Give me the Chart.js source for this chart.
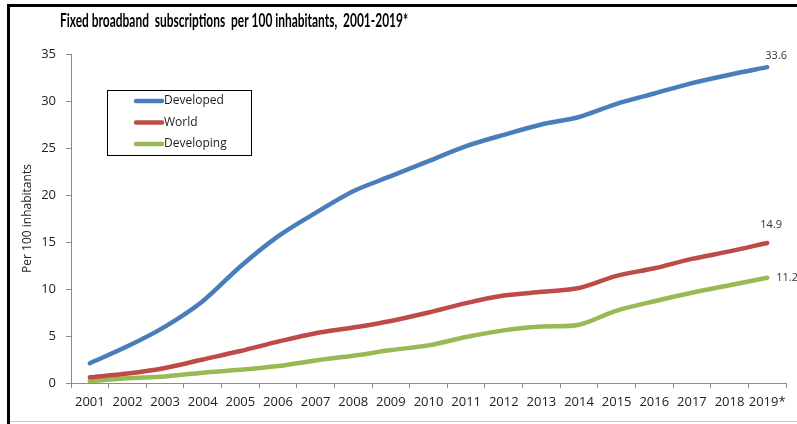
<!DOCTYPE html>
<html>
<head>
<meta charset="utf-8">
<script src="https://cdn.jsdelivr.net/npm/chart.js@4.4.0/dist/chart.umd.min.js"></script>
<style>
  html, body { margin: 0; padding: 0; background: #fff; }
  #wrap { position: relative; width: 797px; height: 424px; }
</style>
</head>
<body>
<div id="wrap"><canvas id="c" width="797" height="424"></canvas></div>
<script>
const titleText = 'Fixed broadband  subscriptions  per 100 inhabitants,  2001-2019*';
const yAxisTitle = 'Per 100 inhabitants';
const years = ['2001','2002','2003','2004','2005','2006','2007','2008','2009','2010',
               '2011','2012','2013','2014','2015','2016','2017','2018','2019*'];
const seriesNames = ['Developed', 'World', 'Developing'];
const developed  = [2.1, 3.9, 6.0, 8.7, 12.4, 15.6, 18.1, 20.4, 22.0, 23.6, 25.2, 26.4, 27.5, 28.3, 29.7, 30.8, 31.9, 32.8, 33.6];
const world      = [0.6, 1.0, 1.6, 2.5, 3.4, 4.4, 5.3, 5.9, 6.6, 7.5, 8.5, 9.3, 9.7, 10.1, 11.4, 12.2, 13.2, 14.0, 14.9];
const developing = [0.2, 0.5, 0.7, 1.1, 1.4, 1.8, 2.4, 2.9, 3.5, 4.0, 4.9, 5.6, 6.0, 6.2, 7.7, 8.7, 9.6, 10.4, 11.2];
const yTicks = [0, 5, 10, 15, 20, 25, 30, 35];

const colors = ['#4A7EBB', '#BE4B48', '#98B954'];
const FONT = "'Open Sans', 'Liberation Sans', sans-serif";

const framePlugin = {
  id: 'frame',
  beforeDraw(chart) {
    const ctx = chart.ctx;
    ctx.save();
    ctx.fillStyle = '#fff';
    ctx.fillRect(0, 0, chart.width, chart.height);
    ctx.fillStyle = '#000';
    ctx.fillRect(7, 4, chart.width - 7, 3);   // top frame
    ctx.fillRect(7, 4, 3, chart.height - 4);  // left frame
    ctx.fillStyle = '#c8c8c8';
    ctx.fillRect(10, 421, chart.width - 10, 1); // bottom frame
    ctx.restore();
  },
  afterDraw(chart) {
    const ctx = chart.ctx;
    const ca = chart.chartArea;
    ctx.save();
    // title (condensed to match the narrow original face)
    ctx.fillStyle = '#000';
    ctx.font = "bold 18px Lato, 'Liberation Sans', sans-serif";
    ctx.textBaseline = 'middle';
    ctx.textAlign = 'left';
    ctx.fillText(titleText, 60, 21, 348);

    // legend box
    const lx = ca.left + 36, ly = ca.top + 36, lw = 144, lh = 65;
    ctx.strokeStyle = '#000';
    ctx.lineWidth = 1;
    ctx.strokeRect(lx + 0.5, ly + 0.5, lw, lh);
    ctx.font = "12px " + FONT;
    ctx.textBaseline = 'middle';
    chart.data.datasets.forEach((ds, i) => {
      const cy = ly + 11 + i * 21.5;
      ctx.strokeStyle = ds.borderColor;
      ctx.lineWidth = 4.5;
      ctx.lineCap = 'round';
      ctx.beginPath();
      ctx.moveTo(lx + 29, cy);
      ctx.lineTo(lx + 55, cy);
      ctx.stroke();
      ctx.fillStyle = '#222';
      ctx.fillText(ds.label, lx + 57, cy);
    });

    // end value labels
    ctx.font = "11px " + FONT;
    ctx.fillStyle = '#333';
    chart.data.datasets.forEach((ds, i) => {
      const meta = chart.getDatasetMeta(i);
      const pt = meta.data[meta.data.length - 1];
      const v = ds.data[ds.data.length - 1].toFixed(1);
      if (i === 2) {
        ctx.textAlign = 'left';
        ctx.fillText(v, pt.x + 9, pt.y);
      } else if (i === 1) {
        ctx.textAlign = 'center';
        ctx.fillText(v, pt.x + 4, pt.y - 18);
      } else {
        ctx.textAlign = 'center';
        ctx.fillText(v, pt.x + 9, pt.y - 11);
      }
    });
    ctx.restore();
  }
};

const seriesData = [developed, world, developing];
new Chart(document.getElementById('c'), {
  type: 'line',
  data: {
    labels: years,
    datasets: seriesNames.map((name, i) => ({
      label: name,
      data: seriesData[i],
      borderColor: colors[i],
      backgroundColor: colors[i],
      borderWidth: 4.5,
      pointRadius: 0,
      tension: 0.3,
      borderCapStyle: 'round',
      fill: false
    }))
  },
  options: {
    responsive: false,
    animation: false,
    devicePixelRatio: 1,
    layout: { padding: { top: 54, right: 11, left: 0, bottom: 0 } },
    plugins: {
      legend: { display: false },
      title: { display: false },
      tooltip: { enabled: false }
    },
    scales: {
      x: {
        offset: true,
        grid: { display: true, offset: true, drawOnChartArea: false, tickLength: 5, color: '#8c8c8c' },
        border: { display: true, color: '#8c8c8c', width: 1 },
        ticks: { color: '#222', font: { family: FONT, size: 13 }, padding: 6, maxRotation: 0, autoSkip: false },
        afterFit(scale) { scale.height = 41; }
      },
      y: {
        min: 0, max: 35,
        afterBuildTicks(scale) { scale.ticks = yTicks.map(v => ({ value: v })); },
        grid: { display: true, drawOnChartArea: false, tickLength: 5, color: '#8c8c8c' },
        border: { display: true, color: '#8c8c8c', width: 1 },
        ticks: { color: '#222', font: { family: FONT, size: 13 }, padding: 10 },
        title: { display: true, text: yAxisTitle, color: '#222', font: { family: FONT, size: 12 }, padding: { top: 20, bottom: 0 } },
        afterFit(scale) { scale.width = 71; }
      }
    }
  },
  plugins: [framePlugin]
});
</script>
</body>
</html>
